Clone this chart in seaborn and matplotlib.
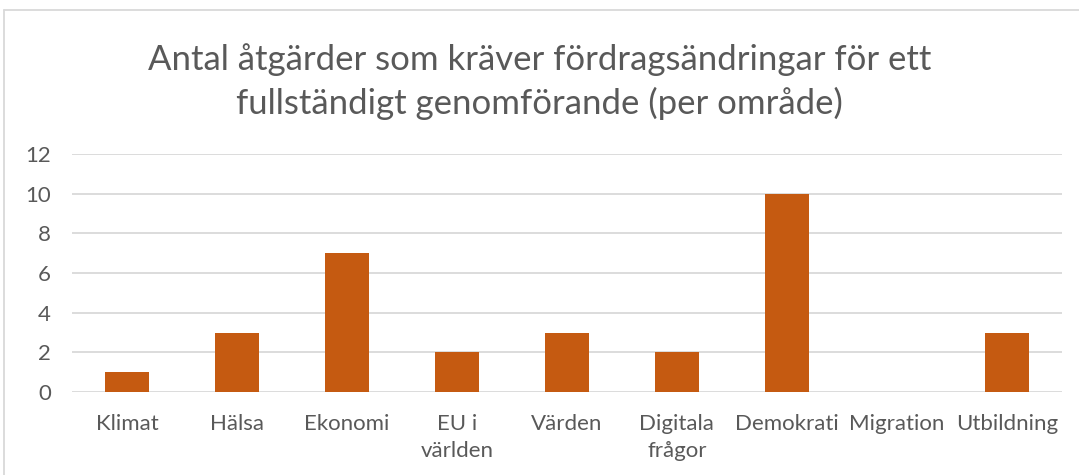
import matplotlib
matplotlib.use("Agg")
import matplotlib.pyplot as plt
import seaborn as sns
import pandas as pd
from matplotlib.lines import Line2D

categories = ["Klimat", "Hälsa", "Ekonomi", "EU i\nvärlden", "Värden",
              "Digitala\nfrågor", "Demokrati", "Migration", "Utbildning"]
values = [1, 3, 7, 2, 3, 2, 10, 0, 3]
yticks = [0, 2, 4, 6, 8, 10, 12]
title = "Antal åtgärder som kräver fördragsändringar för ett\nfullständigt genomförande (per område)"

sns.set_theme(style="white")
plt.rcParams['font.family'] = ['Lato', 'DejaVu Sans']

df = pd.DataFrame({"cat": categories, "val": values})

fig = plt.figure(figsize=(10.79, 4.75), dpi=100)
ax = fig.add_axes([0.0667, 0.1747, 0.9173, 0.5011])

sns.barplot(data=df, x="cat", y="val", color="#C55A11", width=0.4,
            saturation=1, linewidth=0, ax=ax, zorder=3)

ax.set_ylim(0, 12)
ax.set_yticks(yticks)
ax.set_xlim(-0.5, len(categories) - 0.5)
ax.yaxis.grid(True, color="#D9D9D9", linewidth=1.3, zorder=0)
ax.xaxis.grid(False)
for s in ax.spines.values():
    s.set_visible(False)
ax.set_xlabel("")
ax.set_ylabel("")
ax.tick_params(axis="both", length=0, labelsize=16, labelcolor="#595959")
ax.tick_params(axis="y", pad=15)
ax.tick_params(axis="x", pad=16)
ax.set_yticklabels([str(t) for t in yticks])
for lab in ax.get_xticklabels():
    lab.set_linespacing(1.45)

fig.text(0.5, 0.91, title, ha="center", va="top", fontsize=25,
         color="#595959", linespacing=1.42)

# chart frame
fig.add_artist(Line2D([0.004, 0.004], [0, 0.979], color="#D9D9D9", lw=1.3,
                      transform=fig.transFigure))
fig.add_artist(Line2D([0.004, 1.0], [0.979, 0.979], color="#D9D9D9", lw=1.3,
                      transform=fig.transFigure))

fig.savefig("out.png", dpi=100)
